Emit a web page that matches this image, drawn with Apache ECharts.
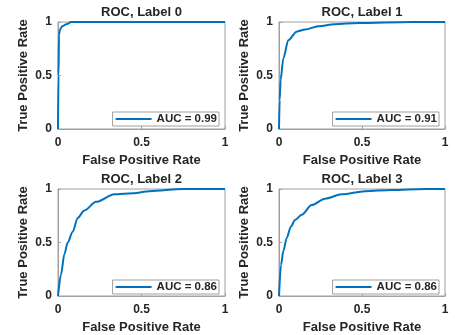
<!DOCTYPE html>
<html>
<head>
<meta charset="utf-8">
<script src="https://cdn.jsdelivr.net/npm/echarts@6/dist/echarts.min.js"></script>
<style>
  html, body { margin: 0; padding: 0; background: #fff; }
  #chart { width: 455px; height: 335px; }
</style>
</head>
<body>
<div id="chart"></div>
<script>
// ROC curves
const fpr0 = [0, 0.003, 0.006, 0.012, 0.025, 0.05, 0.08, 1];
const tpr0 = [0, 0.5, 0.88, 0.93, 0.96, 0.98, 1, 1];
const fpr1 = [0, 0.004, 0.01, 0.026, 0.056, 0.106, 0.157, 0.237, 0.337, 0.478, 0.8, 1];
const tpr1 = [0, 0.27, 0.46, 0.66, 0.83, 0.91, 0.93, 0.96, 0.98, 0.99, 1, 1];
const fpr2 = [0, 0.018, 0.038, 0.058, 0.088, 0.118, 0.158, 0.228, 0.338, 0.448, 0.548, 0.75, 1];
const tpr2 = [0, 0.2, 0.39, 0.5, 0.6, 0.73, 0.8, 0.88, 0.95, 0.96, 0.98, 1, 1];
const fpr3 = [0, 0.012, 0.026, 0.046, 0.072, 0.096, 0.137, 0.197, 0.277, 0.378, 0.518, 0.679, 0.88, 1];
const tpr3 = [0, 0.29, 0.42, 0.54, 0.65, 0.71, 0.76, 0.85, 0.91, 0.95, 0.98, 0.99, 1, 1];

const titles = ['ROC, Label 0', 'ROC, Label 1', 'ROC, Label 2', 'ROC, Label 3'];
const aucNames = ['AUC = 0.99', 'AUC = 0.91', 'AUC = 0.86', 'AUC = 0.86'];
const xTicks = [0, 0.5, 1];

const curves = [[fpr0, tpr0], [fpr1, tpr1], [fpr2, tpr2], [fpr3, tpr3]];

// plot boxes in pixels
const boxes = [
  { left: 58, top: 22, width: 167, height: 107 },
  { left: 279, top: 22, width: 166, height: 107 },
  { left: 58, top: 189, width: 167, height: 108 },
  { left: 279, top: 189, width: 166, height: 108 }
];

const font = 'Liberation Sans, Arial, sans-serif';
const axisGray = '#a0a0a0';
const textDark = '#262626';

const chart = echarts.init(document.getElementById('chart'));

const makeAxis = (idx, isX) => ({
  type: 'value',
  gridIndex: idx,
  min: 0,
  max: 1,
  interval: 0.5,
  name: isX ? 'False Positive Rate' : 'True Positive Rate',
  nameLocation: 'middle',
  nameGap: isX ? 25 : 28,
  nameTextStyle: { color: textDark, fontFamily: font, fontWeight: 'bold', fontSize: 13 },
  axisLine: { show: true, lineStyle: { color: axisGray, width: 1 } },
  axisTick: { show: true, inside: true, length: 3, lineStyle: { color: axisGray } },
  axisLabel: {
    color: textDark,
    fontFamily: font,
    fontWeight: 'bold',
    fontSize: 12,
    margin: isX ? 8 : 6,
    formatter: (v) => xTicks.includes(v) ? String(v) : ''
  },
  splitLine: { show: false }
});

const option = {
  animation: false,
  title: boxes.map((b, i) => ({
    text: titles[i],
    left: b.left + b.width / 2,
    top: b.top - 16,
    textAlign: 'center',
    padding: 0,
    textStyle: { color: textDark, fontFamily: font, fontWeight: 'bold', fontSize: 13 }
  })),
  grid: boxes.map((b) => ({
    left: b.left, top: b.top, width: b.width, height: b.height,
    show: true, borderColor: axisGray, borderWidth: 1, backgroundColor: '#fff'
  })),
  xAxis: boxes.map((b, i) => makeAxis(i, true)),
  yAxis: boxes.map((b, i) => makeAxis(i, false)),
  legend: boxes.map((b, i) => ({
    data: [aucNames[i]],
    right: 455 - (b.left + b.width) + 6,
    top: b.top + b.height - 17,
    orient: 'horizontal',
    backgroundColor: '#fff',
    borderColor: axisGray,
    borderWidth: 1,
    borderRadius: 0,
    padding: [1, 2, 1, 3],
    itemWidth: 36,
    itemHeight: 2,
    itemGap: 4,
    icon: 'rect',
    textStyle: { color: textDark, fontFamily: font, fontWeight: 'bold', fontSize: 11.5 }
  })),
  series: curves.map((c, i) => ({
    name: aucNames[i],
    type: 'line',
    xAxisIndex: i,
    yAxisIndex: i,
    showSymbol: false,
    smooth: 0.3,
    smoothMonotone: 'x',
    data: c[0].map((x, k) => [x, c[1][k]]),
    lineStyle: { color: '#0072BD', width: 2 },
    itemStyle: { color: '#0072BD' }
  }))
};

chart.setOption(option);
</script>
</body>
</html>
